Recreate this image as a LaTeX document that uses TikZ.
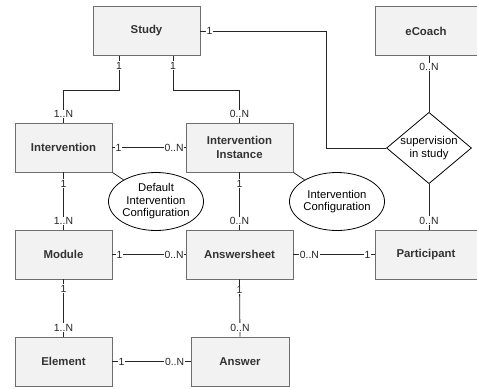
\documentclass[tikz,border=0pt]{standalone}
\usepackage{fontspec}
\setmainfont{Liberation Sans}
\usetikzlibrary{shapes.geometric,calc}
\definecolor{boxfill}{RGB}{242,242,242}
\definecolor{boxline}{RGB}{110,110,110}
\definecolor{txt}{RGB}{51,51,51}
\tikzset{
  ent/.style={draw=boxline, fill=boxfill, line width=0.9pt, minimum height=49pt, inner sep=0pt, font=\fontsize{11.4}{13.5}\selectfont\bfseries, text=txt, align=center},
  rel/.style={draw=black, fill=white, line width=0.8pt, diamond, aspect=1.19, minimum width=81pt, minimum height=68pt, inner sep=0pt, font=\fontsize{11.3}{12.8}\selectfont, align=center},
  attr/.style={draw=black, fill=white, line width=0.8pt, ellipse, minimum width=88pt, minimum height=58pt, inner sep=0pt, font=\fontsize{11.3}{12.5}\selectfont, align=center},
  conn/.style={draw=black!85, line width=0.8pt},
  card/.style={fill=white, inner sep=0.6pt, font=\fontsize{10.4}{11}\selectfont, text=black!85}
}
\begin{document}
\begin{tikzpicture}[x=1pt,y=-1pt]
\useasboundingbox (0,0) rectangle (477,389);
% entities
\node[ent, minimum width=107pt] (study) at (146.5,31) {Study};
\node[ent, minimum width=102pt] (ecoach) at (426,31) {eCoach};
\node[ent, minimum width=97pt] (int) at (63.5,147.5) {Intervention};
\node[ent, minimum width=107pt] (ii) at (239.5,147.5) {Intervention\\Instance};
\node[rel] (sup) at (429,148) {supervision\\in study};
\node[ent, minimum width=97pt] (mod) at (63.5,254.5) {Module};
\node[ent, minimum width=107pt] (as) at (239.5,254.5) {Answersheet};
\node[ent, minimum width=102pt] (part) at (426,254.5) {Participant};
\node[ent, minimum width=97pt] (el) at (63.5,361.5) {Element};
\node[ent, minimum width=98pt] (ans) at (240,361.5) {Answer};
% attributes
\node[attr] (dic) at (156,201.5) {Default\\Intervention\\Configuration};
\node[attr] (ic) at (337,201.5) {Intervention\\Configuration};
\draw[conn] (int.south east) -- (dic);
\draw[conn] (ii.south east) -- (ic);
% connectors
\draw[conn] ($(study.south)+(-27.5,0)$) -- ++(0,34) -| (int.north);
\draw[conn] ($(study.south)+(26.5,0)$) -- ++(0,34) -| (ii.north);
\draw[conn] (study.east) -- ++(126,0) |- (sup.west);
\draw[conn] (ecoach.south -| sup.north) -- (sup.north);
\draw[conn] (sup.south) -- (part.north -| sup.south);
\draw[conn] (int.east) -- (ii.west);
\draw[conn] (int.south) -- (mod.north);
\draw[conn] (ii.south) -- (as.north);
\draw[conn] (mod.east) -- (as.west);
\draw[conn] (as.east) -- (part.west);
\draw[conn] (mod.south) -- (el.north);
\draw[conn] (as.south) -- (ans.north);
\draw[conn] (el.east) -- (ans.west);
% cardinalities
\node[card] (c1) at ($(study.south)+(-27.5,9.5)$) {1};
\node[card] (c2) at ($(study.south)+(26.5,9.5)$) {1};
\node[card] (c3) at ($(int.north)+(0,-8.5)$) {1..N};
\node[card] (c4) at ($(ii.north)+(0,-8.5)$) {0..N};
\node[card] (c5) at ($(study.east)+(9,0)$) {1};
\node[card] (c6) at ($(ecoach.south -| sup.north)+(0,11)$) {0..N};
\node[card] (c7) at ($(part.north -| sup.south)+(0,-9)$) {0..N};
\node[card] (c8) at ($(int.east)+(6,0)$) {1};
\node[card] (c9) at ($(ii.west)+(-11.5,0)$) {0..N};
\node[card] (c10) at ($(int.south)+(0,11)$) {1};
\node[card] (c11) at ($(mod.north)+(0,-8.5)$) {1..N};
\node[card] (c12) at ($(ii.south)+(0,11)$) {1};
\node[card] (c13) at ($(as.north)+(0,-8.5)$) {0..N};
\node[card] (c14) at ($(mod.east)+(7,0)$) {1};
\node[card] (c15) at ($(as.west)+(-11.5,0)$) {0..N};
\node[card] (c16) at ($(as.east)+(16,0)$) {0..N};
\node[card] (c17) at ($(part.west)+(-7,0)$) {1};
\node[card] (c18) at ($(mod.south)+(0,9)$) {1};
\node[card] (c19) at ($(el.north)+(0,-9)$) {1..N};
\node[card] (c20) at ($(as.south)+(0,10.5)$) {1};
\node[card] (c21) at ($(ans.north)+(0,-9)$) {0..N};
\node[card] (c22) at ($(el.east)+(9,0)$) {1};
\node[card] (c23) at ($(ans.west)+(-16,0)$) {0..N};
\end{tikzpicture}
\end{document}
